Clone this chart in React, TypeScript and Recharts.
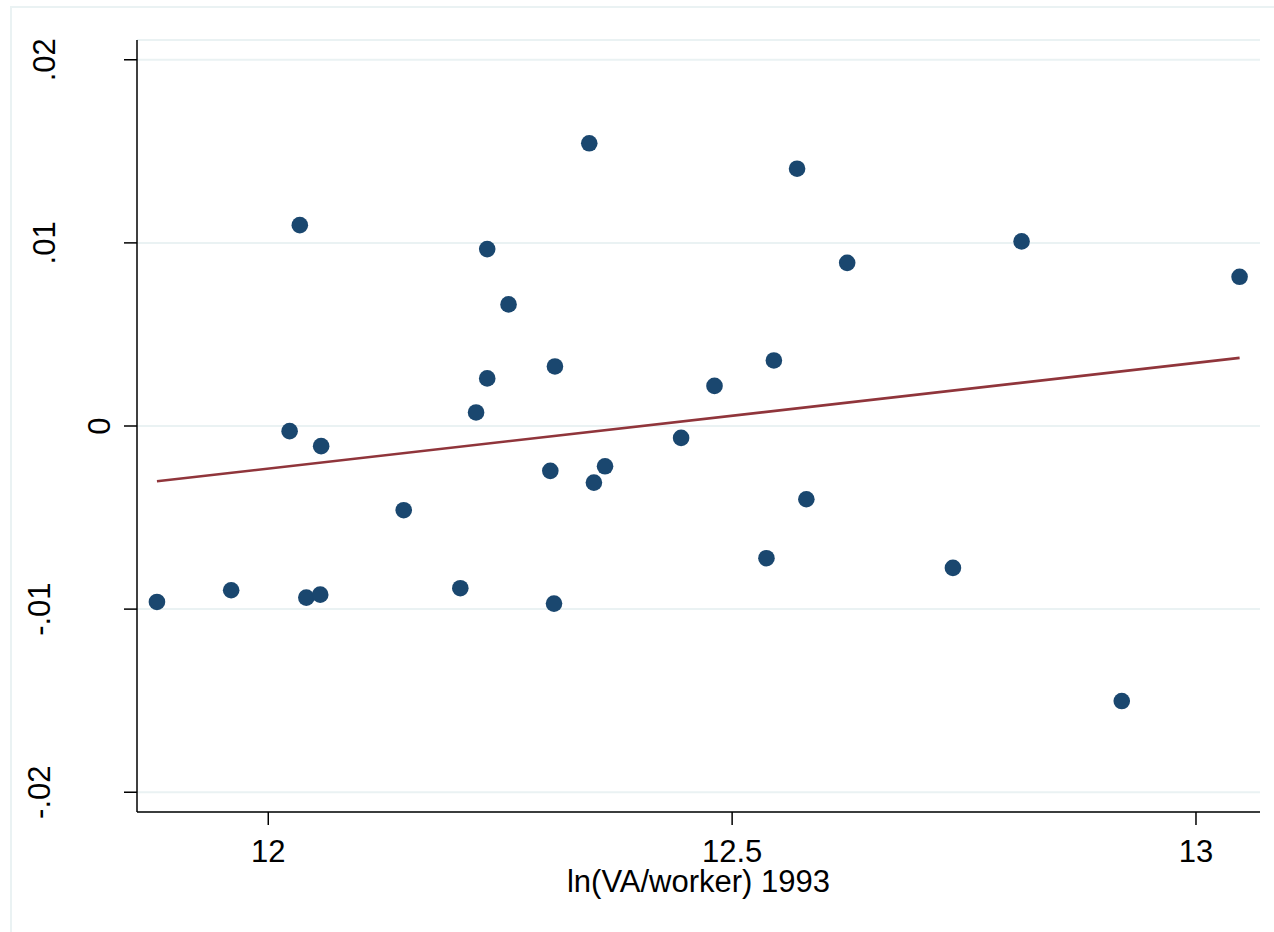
import React from "react"
import { ScatterChart, Scatter, XAxis, YAxis, CartesianGrid } from "recharts"

// ln(VA/worker) 1993 and the residual on the y axis
const lnVaWorker = [
  11.88, 11.96, 12.023, 12.034, 12.041, 12.056, 12.057, 12.146, 12.207, 12.224,
  12.236, 12.236, 12.259, 12.304, 12.308, 12.309, 12.346, 12.351, 12.363, 12.445,
  12.481, 12.537, 12.545, 12.57, 12.58, 12.624, 12.738, 12.812, 12.92, 13.047,
]
const resid = [
  -0.00961, -0.00897, -0.00028, 0.01097, -0.00937, -0.00921, -0.0011, -0.0046, -0.00886, 0.00074,
  0.00966, 0.0026, 0.00664, -0.00245, -0.0097, 0.00325, 0.01544, -0.00309, -0.0022, -0.00065,
  0.00219, -0.00722, 0.00358, 0.01405, -0.004, 0.00891, -0.00775, 0.01008, -0.01502, 0.00815,
]

// fitted line end points
const fitX = [11.88, 13.047]
const fitY = [-0.00302, 0.00372]

const xTicks = [12, 12.5, 13]
const yTicks = [-0.02, -0.01, 0, 0.01, 0.02]
const yTickLabels = ["-.02", "-.01", "0", ".01", ".02"]

const points = lnVaWorker.map((x, i) => ({ x, y: resid[i] }))
const fitLine = fitX.map((x, i) => ({ x, y: fitY[i] }))

const FONT = "'Liberation Sans', Arial, sans-serif"

const Dot = (props: any) => <circle cx={props.cx} cy={props.cy} r={8.3} fill="#1a476f" />
const NoDot = () => <g />

const XTick = (props: any) => {
  const { x, y, payload } = props
  return (
    <text x={x} y={y + 35} textAnchor="middle" fontSize={31} fontFamily={FONT} fill="#000">
      {String(payload.value)}
    </text>
  )
}

const YTick = (props: any) => {
  const { y, payload } = props
  const i = yTicks.indexOf(payload.value)
  const label = yTickLabels[i]
  // Stata pushes rotated labels away from the axis by their unrotated width
  const bx = payload.value === 0 ? 110 : payload.value < 0 ? 50 : 55
  return (
    <text
      x={bx}
      y={y}
      transform={`rotate(-90 ${bx} ${y})`}
      textAnchor="middle"
      fontSize={31}
      fontFamily={FONT}
      fill="#000"
    >
      {label}
    </text>
  )
}

export default function App() {
  return (
    <div style={{ position: "absolute", left: 0, top: 0, width: 1274, height: 932, background: "#fff" }}>
      <div
        style={{
          position: "absolute",
          left: 10,
          top: 6,
          width: 1300,
          height: 1000,
          borderLeft: "2px solid #eaf2f3",
          borderTop: "2px solid #eaf2f3",
        }}
      />
      <div style={{ position: "absolute", left: 0, top: 0 }}>
        <ScatterChart width={1274} height={932} margin={{ top: 40, right: 14, bottom: 0, left: 0 }}>
          <CartesianGrid horizontal vertical={false} stroke="#eaf2f3" strokeWidth={2} />
          <XAxis
            type="number"
            dataKey="x"
            domain={[11.8585, 13.069]}
            ticks={xTicks}
            allowDataOverflow
            height={120}
            tickSize={13}
            axisLine={{ stroke: "#000", strokeWidth: 1.5 }}
            tickLine={{ stroke: "#000", strokeWidth: 1.5 }}
            tick={<XTick />}
            label={{
              value: "ln(VA/worker) 1993",
              position: "insideBottom",
              offset: 40,
              fontSize: 31,
              fontFamily: FONT,
              fill: "#000",
            }}
          />
          <YAxis
            type="number"
            dataKey="y"
            domain={[-0.02108, 0.02108]}
            ticks={yTicks}
            allowDataOverflow
            width={137}
            tickSize={13}
            axisLine={{ stroke: "#000", strokeWidth: 1.5 }}
            tickLine={{ stroke: "#000", strokeWidth: 1.5 }}
            tick={<YTick />}
          />
          <Scatter data={points} shape={<Dot />} isAnimationActive={false} />
          <Scatter
            data={fitLine}
            line={{ stroke: "#90353b", strokeWidth: 2.6 }}
            shape={<NoDot />}
            isAnimationActive={false}
          />
        </ScatterChart>
      </div>
    </div>
  )
}
